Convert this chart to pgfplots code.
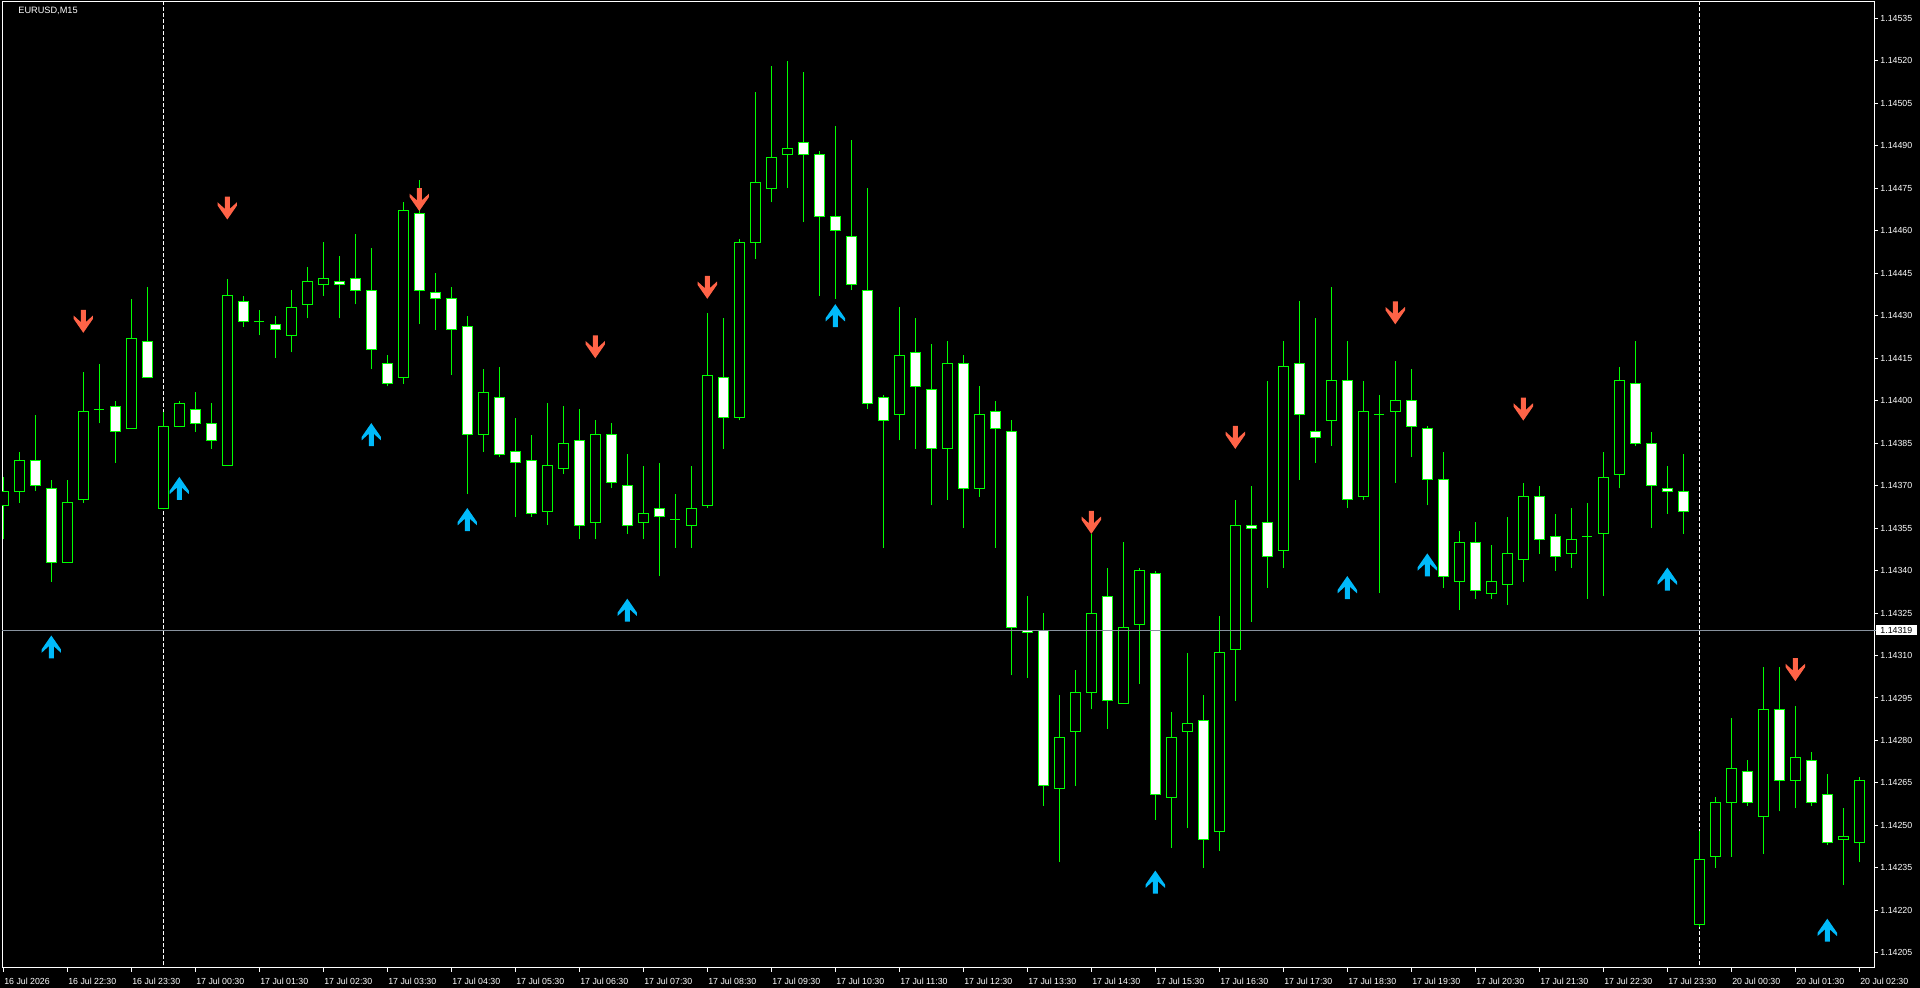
\documentclass[border=0pt]{standalone}
\usepackage{fontspec}
\setmainfont{Liberation Sans}
\usepackage{pgfplots}
\usepackage{pgfplotstable}
\pgfplotsset{compat=1.18}

\definecolor{cgreen}{RGB}{0,255,0}
\definecolor{cred}{RGB}{255,99,71}
\definecolor{cblue}{RGB}{0,186,250}
\definecolor{bidline}{RGB}{136,146,158}

% price 1.14363 (plain or float form) -> 363, exact digit handling
\def\ptrafoA#1Y#2\relax{\ifx\relax#2\relax\pplain#1\relax\else\pfloatB#2\relax\fi}
\def\pplain#1.#2\relax{\pdig#2\relax}
\def\pfloatB#1.#2e#3]#4\relax{\pdig#2\relax}
\def\pdig#1\relax{\pdigB#100000\relax}
\def\pdigB#1#2#3#4#5#6\relax{\pgfmathparse{#1#2#3#4#5.#6-14000}}
\def\pnum1.#1\relax{#1}

\pgfdeclareplotmark{dnarrow}{%
 \pgfpathmoveto{\pgfqpoint{-1.25pt}{5.75pt}}%
 \pgfpathlineto{\pgfqpoint{1.25pt}{5.75pt}}%
 \pgfpathlineto{\pgfqpoint{1.25pt}{-0.4pt}}%
 \pgfpathlineto{\pgfqpoint{4.85pt}{2.9pt}}%
 \pgfpathlineto{\pgfqpoint{4.85pt}{1.25pt}}%
 \pgfpathlineto{\pgfqpoint{0pt}{-5.75pt}}%
 \pgfpathlineto{\pgfqpoint{-4.85pt}{1.25pt}}%
 \pgfpathlineto{\pgfqpoint{-4.85pt}{2.9pt}}%
 \pgfpathlineto{\pgfqpoint{-1.25pt}{-0.4pt}}%
 \pgfpathclose\pgfusepathqfill}
\pgfdeclareplotmark{uparrow}{%
 \pgfpathmoveto{\pgfqpoint{-1.25pt}{-5.75pt}}%
 \pgfpathlineto{\pgfqpoint{1.25pt}{-5.75pt}}%
 \pgfpathlineto{\pgfqpoint{1.25pt}{0.4pt}}%
 \pgfpathlineto{\pgfqpoint{4.85pt}{-2.9pt}}%
 \pgfpathlineto{\pgfqpoint{4.85pt}{-1.25pt}}%
 \pgfpathlineto{\pgfqpoint{0pt}{5.75pt}}%
 \pgfpathlineto{\pgfqpoint{-4.85pt}{-1.25pt}}%
 \pgfpathlineto{\pgfqpoint{-4.85pt}{-2.9pt}}%
 \pgfpathlineto{\pgfqpoint{-1.25pt}{0.4pt}}%
 \pgfpathclose\pgfusepathqfill}

\pgfplotsset{
  wick/.style={draw=cgreen, line width=0.5pt, mark=none},
  bull/.style={draw=cgreen, fill=black, line width=0.5pt, line join=miter, mark=none},
  bear/.style={draw=cgreen, fill=white, line width=0.5pt, line join=miter, mark=none},
}

\pgfplotstableread{
i o h l c
0 1.14363 1.14373 1.14351 1.14368
1 1.14368 1.14382 1.14364 1.14379
2 1.14379 1.14395 1.14368 1.14370
3 1.14369 1.14372 1.14336 1.14343
4 1.14343 1.14372 1.14343 1.14364
5 1.14365 1.14410 1.14364 1.14396
6 1.14397 1.14413 1.14392 1.14397
7 1.14398 1.14400 1.14378 1.14389
8 1.14390 1.14436 1.14390 1.14422
9 1.14421 1.14440 1.14408 1.14408
10 1.14362 1.14396 1.14362 1.14391
11 1.14391 1.14400 1.14391 1.14399
12 1.14397 1.14403 1.14389 1.14392
13 1.14392 1.14399 1.14383 1.14386
14 1.14377 1.14443 1.14377 1.14437
15 1.14435 1.14437 1.14426 1.14428
16 1.14428 1.14432 1.14423 1.14428
17 1.14427 1.14430 1.14415 1.14425
18 1.14423 1.14439 1.14417 1.14433
19 1.14434 1.14447 1.14429 1.14442
20 1.14441 1.14456 1.14437 1.14443
21 1.14442 1.14451 1.14429 1.14441
22 1.14443 1.14459 1.14434 1.14439
23 1.14439 1.14454 1.14411 1.14418
24 1.14413 1.14416 1.14405 1.14406
25 1.14408 1.14470 1.14406 1.14467
26 1.14466 1.14478 1.14427 1.14439
27 1.14438 1.14445 1.14425 1.14436
28 1.14436 1.14440 1.14409 1.14425
29 1.14426 1.14430 1.14367 1.14388
30 1.14388 1.14411 1.14382 1.14403
31 1.14401 1.14412 1.14380 1.14381
32 1.14382 1.14394 1.14359 1.14378
33 1.14379 1.14388 1.14359 1.14360
34 1.14361 1.14399 1.14356 1.14377
35 1.14376 1.14398 1.14374 1.14385
36 1.14386 1.14397 1.14351 1.14356
37 1.14357 1.14393 1.14351 1.14388
38 1.14388 1.14392 1.14369 1.14371
39 1.14370 1.14381 1.14353 1.14356
40 1.14357 1.14377 1.14351 1.14360
41 1.14362 1.14378 1.14338 1.14359
42 1.14358 1.14367 1.14348 1.14358
43 1.14356 1.14377 1.14348 1.14362
44 1.14363 1.14431 1.14362 1.14409
45 1.14408 1.14429 1.14383 1.14394
46 1.14394 1.14457 1.14393 1.14456
47 1.14456 1.14509 1.14450 1.14477
48 1.14475 1.14518 1.14470 1.14486
49 1.14487 1.14520 1.14475 1.14489
50 1.14491 1.14516 1.14463 1.14487
51 1.14487 1.14488 1.14437 1.14465
52 1.14465 1.14497 1.14436 1.14460
53 1.14458 1.14492 1.14439 1.14441
54 1.14439 1.14475 1.14397 1.14399
55 1.14401 1.14402 1.14348 1.14393
56 1.14395 1.14433 1.14386 1.14416
57 1.14417 1.14429 1.14383 1.14405
58 1.14404 1.14420 1.14363 1.14383
59 1.14383 1.14421 1.14365 1.14413
60 1.14413 1.14416 1.14355 1.14369
61 1.14369 1.14405 1.14366 1.14395
62 1.14396 1.14400 1.14348 1.14390
63 1.14389 1.14393 1.14303 1.14320
64 1.14319 1.14331 1.14302 1.14318
65 1.14319 1.14325 1.14257 1.14264
66 1.14263 1.14296 1.14237 1.14281
67 1.14283 1.14305 1.14264 1.14297
68 1.14297 1.14353 1.14291 1.14325
69 1.14331 1.14341 1.14284 1.14294
70 1.14293 1.14350 1.14293 1.14320
71 1.14321 1.14341 1.14300 1.14340
72 1.14339 1.14340 1.14252 1.14261
73 1.14260 1.14290 1.14242 1.14281
74 1.14283 1.14311 1.14249 1.14286
75 1.14287 1.14296 1.14235 1.14245
76 1.14248 1.14324 1.14241 1.14311
77 1.14312 1.14365 1.14294 1.14356
78 1.14356 1.14370 1.14322 1.14355
79 1.14357 1.14407 1.14334 1.14345
80 1.14347 1.14421 1.14341 1.14412
81 1.14413 1.14435 1.14372 1.14395
82 1.14389 1.14429 1.14378 1.14387
83 1.14393 1.14440 1.14384 1.14407
84 1.14407 1.14421 1.14362 1.14365
85 1.14366 1.14407 1.14365 1.14396
86 1.14395 1.14402 1.14332 1.14395
87 1.14396 1.14414 1.14371 1.14400
88 1.14400 1.14411 1.14380 1.14391
89 1.14390 1.14391 1.14363 1.14372
90 1.14372 1.14382 1.14334 1.14338
91 1.14336 1.14354 1.14326 1.14350
92 1.14350 1.14357 1.14330 1.14333
93 1.14332 1.14349 1.14330 1.14336
94 1.14335 1.14359 1.14328 1.14346
95 1.14344 1.14371 1.14336 1.14366
96 1.14366 1.14370 1.14346 1.14351
97 1.14352 1.14360 1.14340 1.14345
98 1.14346 1.14362 1.14341 1.14351
99 1.14352 1.14364 1.14330 1.14352
100 1.14353 1.14382 1.14331 1.14373
101 1.14374 1.14412 1.14369 1.14407
102 1.14406 1.14421 1.14384 1.14385
103 1.14385 1.14389 1.14355 1.14370
104 1.14369 1.14377 1.14360 1.14368
105 1.14368 1.14381 1.14353 1.14361
106 1.14215 1.14248 1.14214 1.14238
107 1.14239 1.14260 1.14235 1.14258
108 1.14258 1.14288 1.14239 1.14270
109 1.14269 1.14273 1.14257 1.14258
110 1.14253 1.14306 1.14240 1.14291
111 1.14291 1.14306 1.14255 1.14266
112 1.14266 1.14292 1.14256 1.14274
113 1.14273 1.14276 1.14257 1.14258
114 1.14261 1.14268 1.14243 1.14244
115 1.14245 1.14256 1.14229 1.14246
116 1.14244 1.14267 1.14237 1.14266
}\candles

\begin{document}
\begin{tikzpicture}
\useasboundingbox (0,0) rectangle (960pt,494pt);
\fill[black] (0,0) rectangle (960pt,494pt);
\begin{axis}[
  at={(1pt,10pt)}, anchor=south west,
  width=936pt, height=483pt, scale only axis,
  y coord trafo/.code={\ptrafoA#1Y\relax},
  xmin=-0.081, xmax=116.92,
  ymin=1.1419966, ymax=1.1454075,
  axis line style={white, line width=0.5pt},
  tick style={white, line width=0.5pt},
  tick align=outside,
  major tick length=2pt,
  xtick pos=bottom, ytick pos=right,
  yticklabel pos=right,
  xtick={0,4,8,12,16,20,24,28,32,36,40,44,48,52,56,60,64,68,72,76,80,84,88,92,96,100,104,108,112,116},
  xticklabels={16 Jul 2026,16 Jul 22:30,16 Jul 23:30,17 Jul 00:30,17 Jul 01:30,17 Jul 02:30,17 Jul 03:30,17 Jul 04:30,17 Jul 05:30,17 Jul 06:30,17 Jul 07:30,17 Jul 08:30,17 Jul 09:30,17 Jul 10:30,17 Jul 11:30,17 Jul 12:30,17 Jul 13:30,17 Jul 14:30,17 Jul 15:30,17 Jul 16:30,17 Jul 17:30,17 Jul 18:30,17 Jul 19:30,17 Jul 20:30,17 Jul 21:30,17 Jul 22:30,17 Jul 23:30,20 Jul 00:30,20 Jul 01:30,20 Jul 02:30},
  ytick={1.14205,1.14220,1.14235,1.14250,1.14265,1.14280,1.14295,1.14310,1.14325,1.14340,1.14355,1.14370,1.14385,1.14400,1.14415,1.14430,1.14445,1.14460,1.14475,1.14490,1.14505,1.14520,1.14535},
  yticklabels={1.14205,1.14220,1.14235,1.14250,1.14265,1.14280,1.14295,1.14310,1.14325,1.14340,1.14355,1.14370,1.14385,1.14400,1.14415,1.14430,1.14445,1.14460,1.14475,1.14490,1.14505,1.14520,1.14535},
  ticklabel style={font=\fontsize{4.4pt}{5pt}\selectfont, text=white},
  xticklabel style={anchor=north west, inner sep=0pt, xshift=0.3pt, yshift=-3pt},
  yticklabel style={anchor=west, inner sep=0pt, xshift=1pt},
  extra y ticks={1.14319},
  extra y tick labels={1.14319},
  extra y tick style={tick style={bidline}, yticklabel style={fill=white, text=black, inner xsep=2.2pt, inner ysep=0.9pt, xshift=-2.2pt}},
  axis background/.style={fill=black},
]
% period separators
\addplot[white, line width=0.5pt, dash pattern=on 2pt off 1pt, mark=none] coordinates {(10,1.14190) (10,1.14545)};
\addplot[white, line width=0.5pt, dash pattern=on 2pt off 1pt, mark=none] coordinates {(106,1.14190) (106,1.14545)};
% candles
\pgfplotsforeachungrouped \i in {0,...,116}{%
  \pgfplotstablegetelem{\i}{o}\of\candles \let\O\pgfplotsretval
  \pgfplotstablegetelem{\i}{h}\of\candles \let\H\pgfplotsretval
  \pgfplotstablegetelem{\i}{l}\of\candles \let\L\pgfplotsretval
  \pgfplotstablegetelem{\i}{c}\of\candles \let\C\pgfplotsretval
  \pgfmathsetmacro\xa{\i-0.3125}%
  \pgfmathsetmacro\xb{\i+0.3125}%
  \edef\temp{\noexpand\addplot[wick] coordinates {(\i,\L) (\i,\H)};}\temp
  \ifnum\expandafter\pnum\C\relax>\expandafter\pnum\O\relax
    \edef\temp{\noexpand\addplot[bull] coordinates {(\xa,\O) (\xb,\O) (\xb,\C) (\xa,\C) (\xa,\O)};}\temp
  \else
    \ifnum\expandafter\pnum\C\relax<\expandafter\pnum\O\relax
      \edef\temp{\noexpand\addplot[bear] coordinates {(\xa,\O) (\xb,\O) (\xb,\C) (\xa,\C) (\xa,\O)};}\temp
    \else
      \edef\temp{\noexpand\addplot[wick] coordinates {(\xa,\O) (\xb,\O)};}\temp
    \fi
  \fi
}
% bid line
\addplot[bidline, line width=0.5pt, mark=none] coordinates {(-0.5,1.14319) (117.5,1.14319)};
% signal arrows
\addplot[only marks, mark=dnarrow, color=cred, fill=cred] coordinates {(5,1.14428) (14,1.14468) (26,1.14471) (37,1.14419) (44,1.14440) (68,1.14357) (77,1.14387) (87,1.14431) (95,1.14397) (112,1.14305)};
\addplot[only marks, mark=uparrow, color=cblue, fill=cblue] coordinates {(3,1.14313) (11,1.14369) (23,1.14388) (29,1.14358) (39,1.14326) (52,1.14430) (72,1.14230) (84,1.14334) (89,1.14342) (104,1.14337) (114,1.14213)};
\end{axis}
\node[anchor=west, inner sep=0pt, text=white, font=\fontsize{4.6pt}{5pt}\selectfont] at (9pt,488.7pt) {EURUSD,M15};
\end{tikzpicture}
\end{document}
